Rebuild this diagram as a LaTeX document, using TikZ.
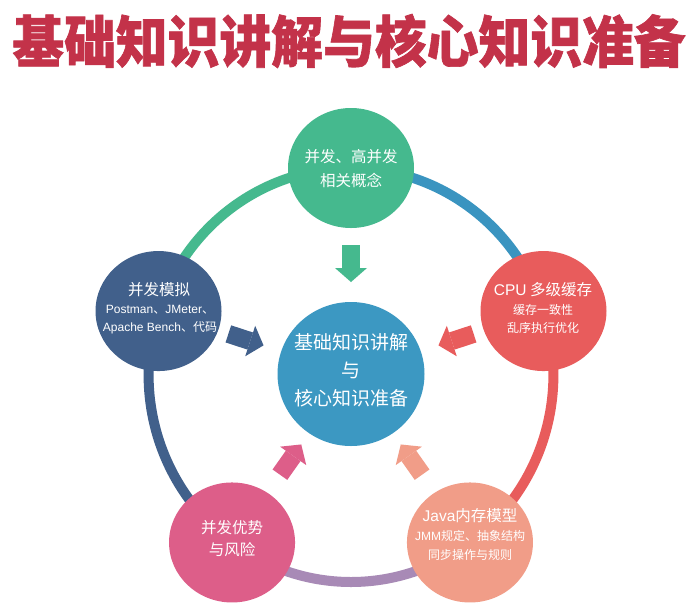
\documentclass[tikz,border=0pt]{standalone}
\usepackage{fontspec}
\setmainfont{Noto Sans CJK SC}
\newfontfamily\latf{Liberation Sans}
\newfontfamily\titlef{Noto Sans CJK SC}[BoldFeatures={FakeBold=1.2}]
\usetikzlibrary{calc,arrows.meta,shapes.geometric}
\newcommand\LT[1]{{\latf #1}}
\definecolor{titlered}{RGB}{195,50,73}
\definecolor{cgreen}{RGB}{69,185,142}
\definecolor{cnavy}{RGB}{65,96,139}
\definecolor{cred}{RGB}{232,92,92}
\definecolor{csalmon}{RGB}{241,157,136}
\definecolor{cpink}{RGB}{221,94,137}
\definecolor{cblue}{RGB}{60,152,194}
\definecolor{cbluearc}{RGB}{58,148,192}
\definecolor{cpurple}{RGB}{168,138,182}
\tikzset{
  ball/.style={ellipse, inner sep=0pt, minimum width=126pt, minimum height=120pt, fill=#1, draw=none},
  ring/.style={line width=10pt, draw=#1},
  blockarrow/.style={line width=18pt, draw=#1, -{Triangle[width=32pt,length=14pt,line width=0pt]}},
  head/.style={text=white, inner sep=0pt, font=\fontsize{15.5}{18}\selectfont},
  small/.style={text=white, inner sep=0pt, font=\fontsize{12}{14}\selectfont},
  big/.style={text=white, inner sep=0pt, font=\fontsize{19}{22}\selectfont},
}
\begin{document}
\begin{tikzpicture}[x=1pt,y=-1pt]
\useasboundingbox[fill=white] (0,0) rectangle (696,606);
% title
\node[inner sep=0pt, text=titlered] (title) at (349,41)
  {\scalebox{0.925}[1]{\fontsize{56}{60}\selectfont\titlef\bfseries 基础知识讲解与核心知识准备}};
% ring geometry
\coordinate (O) at (351,375);
\coordinate (pT) at ($(O)+(90:202.4pt and 207pt)$);
\coordinate (pL) at ($(O)+(162:202.4pt and 207pt)$);
\coordinate (pR) at ($(O)+(18:202.4pt and 207pt)$);
\coordinate (pBL) at ($(O)+(-126:202.4pt and 207pt)$);
\coordinate (pBR) at ($(O)+(-54:202.4pt and 207pt)$);
% ring arcs
\draw[ring=cgreen] (pL) arc[start angle=162, end angle=90, x radius=202.4pt, y radius=207pt];
\draw[ring=cbluearc] (pT) arc[start angle=90, end angle=18, x radius=202.4pt, y radius=207pt];
\draw[ring=cred] (pR) arc[start angle=18, end angle=-54, x radius=202.4pt, y radius=207pt];
\draw[ring=cpurple] (pBR) arc[start angle=-54, end angle=-126, x radius=202.4pt, y radius=207pt];
\draw[ring=cnavy] (pBL) arc[start angle=-126, end angle=-198, x radius=202.4pt, y radius=207pt];
% circles
\node[ball=cblue, minimum width=147pt, minimum height=144pt] (C) at (351,374) {};
\node[ball=cgreen] (T) at (pT) {};
\node[ball=cnavy] (L) at (pL) {};
\node[ball=cred] (R) at (pR) {};
\node[ball=cpink] (BL) at (pBL) {};
\node[ball=csalmon] (BR) at (pBR) {};
% arrows
\draw[blockarrow=cgreen] ($(T)!77pt!(C)$) -- ($(T)!114pt!(C)$);
\draw[blockarrow=cnavy] ($(L)!73.5pt!(C)$) -- ($(L)!110.5pt!(C)$);
\draw[blockarrow=cred] ($(R)!73.5pt!(C)$) -- ($(R)!110.5pt!(C)$);
\draw[blockarrow=cpink] ($(BL)!83pt!(C)$) -- ($(BL)!120pt!(C)$);
\draw[blockarrow=csalmon] ($(BR)!83pt!(C)$) -- ($(BR)!120pt!(C)$);
% texts
\node[head] (tT1) at (351,157) {并发、高并发};
\node[head] (tT2) at (351,180) {相关概念};
\node[head] (tL1) at (159,290) {并发模拟};
\node[small] (tL2) at (160,310) {\LT{Postman}、\LT{JMeter}、};
\node[small] (tL3) at (160,328) {\LT{Apache Bench}、代码};
\node[head] (tR1) at (543,290) {\LT{CPU} 多级缓存};
\node[small] (tR2) at (543,310) {缓存一致性};
\node[small] (tR3) at (543,328) {乱序执行优化};
\node[big] (tC1) at (351,342) {基础知识讲解};
\node[big] (tC2) at (351,370) {与};
\node[big] (tC3) at (351,398) {核心知识准备};
\node[head] (tBL1) at (232,528) {并发优势};
\node[head] (tBL2) at (232,550) {与风险};
\node[head] (tBR1) at (470,516) {\LT{Java}内存模型};
\node[small] (tBR2) at (470,536) {\LT{JMM}规定、抽象结构};
\node[small] (tBR3) at (470,555) {同步操作与规则};
\end{tikzpicture}
\end{document}
